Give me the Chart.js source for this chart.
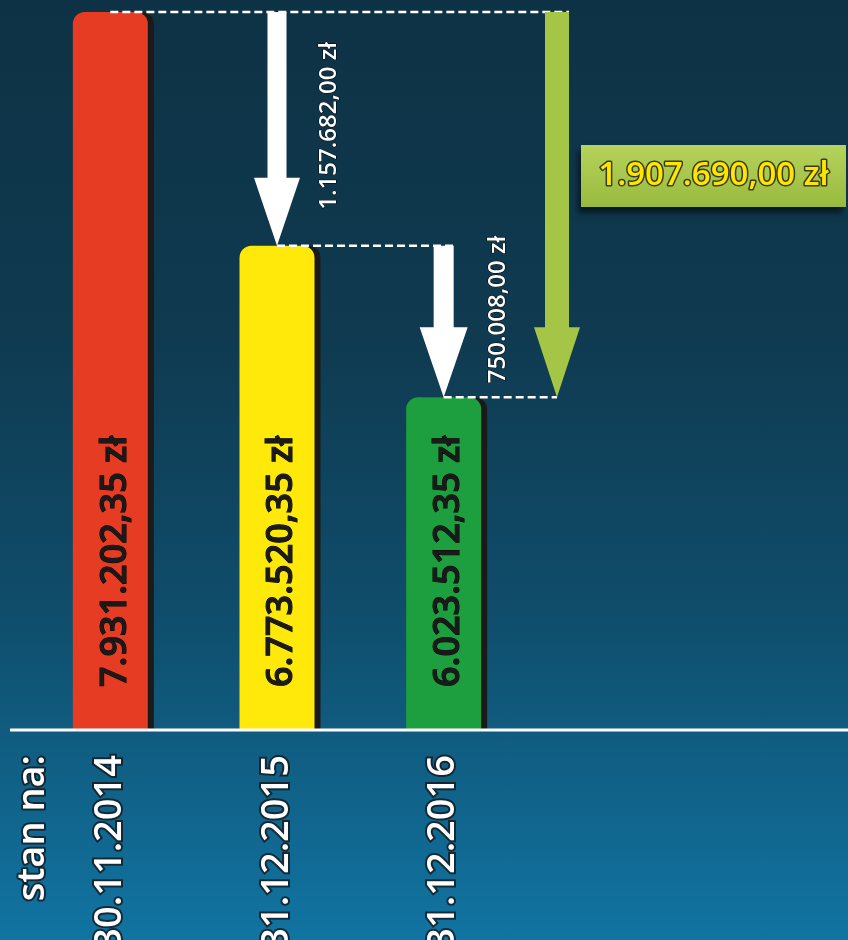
<!DOCTYPE html>
<html lang="pl">
<head>
<meta charset="utf-8">
<script src="https://cdn.jsdelivr.net/npm/chart.js@4.4.1/dist/chart.umd.min.js"></script>
<style>
    html, body { margin: 0; padding: 0; }
    body {
        width: 848px; height: 940px; overflow: hidden;
        background: linear-gradient(to bottom, #0e3245 0%, #0f3a50 35%, #0f4d6b 65%, #1174a2 100%);
    }
    canvas { display: block; }
</style>
</head>
<body>
<canvas id="zadluzenie" width="848" height="940"></canvas>
<script>
const daty = ['30.11.2014', '31.12.2015', '31.12.2016'];
const zadluzenie = [7931202.35, 6773520.35, 6023512.35];
const koloryBelek = ['#e63c24', '#ffe90a', '#1d9e3f'];
const zakresY = { min: 4380000, max: 7991000 };
const podpisOsi = 'stan na:';

const formatujZl = (v) => {
    const [calk, grosze] = v.toFixed(2).split('.');
    return calk.replace(/\B(?=(\d{3})+(?!\d))/g, '.') + ',' + grosze + ' zł';
};

function strzalka(ctx, x, y0, y1, szer, grot, wysGrotu, kolor) {
    ctx.fillStyle = kolor;
    ctx.beginPath();
    ctx.moveTo(x - szer / 2, y0);
    ctx.lineTo(x + szer / 2, y0);
    ctx.lineTo(x + szer / 2, y1 - wysGrotu);
    ctx.lineTo(x + grot / 2, y1 - wysGrotu);
    ctx.lineTo(x, y1);
    ctx.lineTo(x - grot / 2, y1 - wysGrotu);
    ctx.lineTo(x - szer / 2, y1 - wysGrotu);
    ctx.closePath();
    ctx.fill();
}

function kreska(ctx, x0, x1, y) {
    ctx.beginPath();
    ctx.moveTo(x0, y);
    ctx.lineTo(x1, y);
    ctx.stroke();
}

function tekstPionowy(ctx, txt, x, y, align) {
    ctx.save();
    ctx.translate(x, y);
    ctx.rotate(-Math.PI / 2);
    ctx.textAlign = align;
    if (ctx.lineWidth > 0 && ctx.strokeStyle) ctx.strokeText(txt, 0, 0);
    ctx.fillText(txt, 0, 0);
    ctx.restore();
}

const grafika = {
    id: 'grafika',
    beforeDatasetsDraw(chart) {
        const ctx = chart.ctx;
        ctx.save();
        ctx.shadowColor = '#1b1a1a';
        ctx.shadowOffsetX = 6;
        ctx.shadowOffsetY = 0;
        ctx.shadowBlur = 0;
    },
    afterDatasetsDraw(chart) {
        const ctx = chart.ctx;
        ctx.restore();

        const x = chart.scales.x;
        const area = chart.chartArea;
        const belki = chart.getDatasetMeta(0).data;
        const krok = x.getPixelForValue(1) - x.getPixelForValue(0);
        const szczyty = belki.map(b => b.y);
        const zielonaX = belki[2].x + krok * 0.68;

        // os
        ctx.save();
        ctx.strokeStyle = '#ffffff';
        ctx.lineWidth = 3;
        kreska(ctx, area.left - 17, chart.width, area.bottom + 1);
        ctx.restore();

        // kwoty w belkach
        ctx.save();
        ctx.fillStyle = '#1a1a1a';
        ctx.font = '600 36px "Open Sans"';
        ctx.textBaseline = 'middle';
        ctx.lineWidth = 0;
        belki.forEach((b, i) => tekstPionowy(ctx, formatujZl(zadluzenie[i]), b.x + 5, area.bottom - 42, 'left'));
        ctx.restore();

        // linie przerywane
        ctx.save();
        ctx.strokeStyle = '#ffffff';
        ctx.lineWidth = 2.5;
        ctx.setLineDash([8, 4]);
        kreska(ctx, belki[0].x, zielonaX + 12, szczyty[0]);
        kreska(ctx, belki[1].x, belki[2].x + 10, szczyty[1]);
        kreska(ctx, belki[2].x, zielonaX, szczyty[2]);
        ctx.restore();

        // strzalki
        ctx.save();
        strzalka(ctx, belki[1].x, szczyty[0], szczyty[1], 19, 46, 68, '#ffffff');
        strzalka(ctx, belki[2].x, szczyty[1], szczyty[2], 20, 48, 70, '#ffffff');
        strzalka(ctx, zielonaX, szczyty[0], szczyty[2], 24, 46, 70, '#a4c546');
        ctx.restore();

        // roznice
        const roznica1 = zadluzenie[0] - zadluzenie[1];
        const roznica2 = zadluzenie[1] - zadluzenie[2];
        const razem = zadluzenie[0] - zadluzenie[2];
        ctx.save();
        ctx.fillStyle = '#ffffff';
        ctx.font = '600 24px "Open Sans"';
        ctx.textBaseline = 'middle';
        ctx.lineWidth = 0;
        tekstPionowy(ctx, formatujZl(roznica1), belki[1].x + 52, (szczyty[0] + szczyty[1]) / 2 - 3, 'center');
        tekstPionowy(ctx, formatujZl(roznica2), belki[2].x + 54, (szczyty[1] + szczyty[2]) / 2 - 12, 'center');
        ctx.restore();

        // zielona ramka
        const bx = zielonaX + 24, by = 145, bw = chart.width - 2 - bx, bh = 62;
        ctx.save();
        ctx.shadowColor = 'rgba(0,0,0,0.55)';
        ctx.shadowOffsetX = -3;
        ctx.shadowOffsetY = 6;
        ctx.shadowBlur = 6;
        const g = ctx.createLinearGradient(0, by, 0, by + bh);
        g.addColorStop(0, '#b6d35c');
        g.addColorStop(1, '#97ba3d');
        ctx.fillStyle = g;
        ctx.fillRect(bx, by, bw, bh);
        ctx.restore();

        ctx.save();
        ctx.font = '600 33px "Open Sans"';
        ctx.textAlign = 'center';
        ctx.textBaseline = 'middle';
        ctx.lineJoin = 'round';
        ctx.strokeStyle = '#3b3a1c';
        ctx.lineWidth = 3;
        ctx.strokeText(formatujZl(razem), bx + bw / 2, by + bh / 2);
        ctx.fillStyle = '#ffe600';
        ctx.fillText(formatujZl(razem), bx + bw / 2, by + bh / 2);
        ctx.restore();

        // stan na:
        ctx.save();
        ctx.fillStyle = '#ffffff';
        ctx.font = '600 38px "Open Sans"';
        ctx.textBaseline = 'middle';
        ctx.strokeStyle = 'rgba(20,20,20,0.75)';
        ctx.lineWidth = 4;
        ctx.lineJoin = 'round';
        tekstPionowy(ctx, podpisOsi, area.left + 6, area.bottom + 26, 'right');
        ctx.restore();
    }
};

new Chart(document.getElementById('zadluzenie'), {
    type: 'bar',
    data: {
        labels: daty,
        datasets: [{
            data: zadluzenie,
            backgroundColor: koloryBelek,
            borderWidth: 0,
            borderRadius: { topLeft: 12, topRight: 12, bottomLeft: 0, bottomRight: 0 },
            borderSkipped: 'bottom',
            categoryPercentage: 1,
            barPercentage: 0.45
        }]
    },
    options: {
        responsive: false,
        animation: false,
        layout: { padding: { left: 27, right: 321, top: 0, bottom: 0 } },
        plugins: { legend: { display: false }, tooltip: { enabled: false } },
        scales: {
            x: {
                grid: { display: false, drawTicks: false },
                border: { display: false },
                ticks: {
                    color: '#ffffff',
                    font: { family: 'Open Sans', size: 38, weight: '600' },
                    textStrokeColor: 'rgba(20,20,20,0.75)',
                    textStrokeWidth: 4,
                    padding: 26,
                    minRotation: 90,
                    maxRotation: 90,
                    autoSkip: false
                },
                afterFit: (scale) => { scale.height = 211; }
            },
            y: {
                display: false,
                min: zakresY.min,
                max: zakresY.max
            }
        }
    },
    plugins: [grafika]
});
</script>
</body>
</html>
